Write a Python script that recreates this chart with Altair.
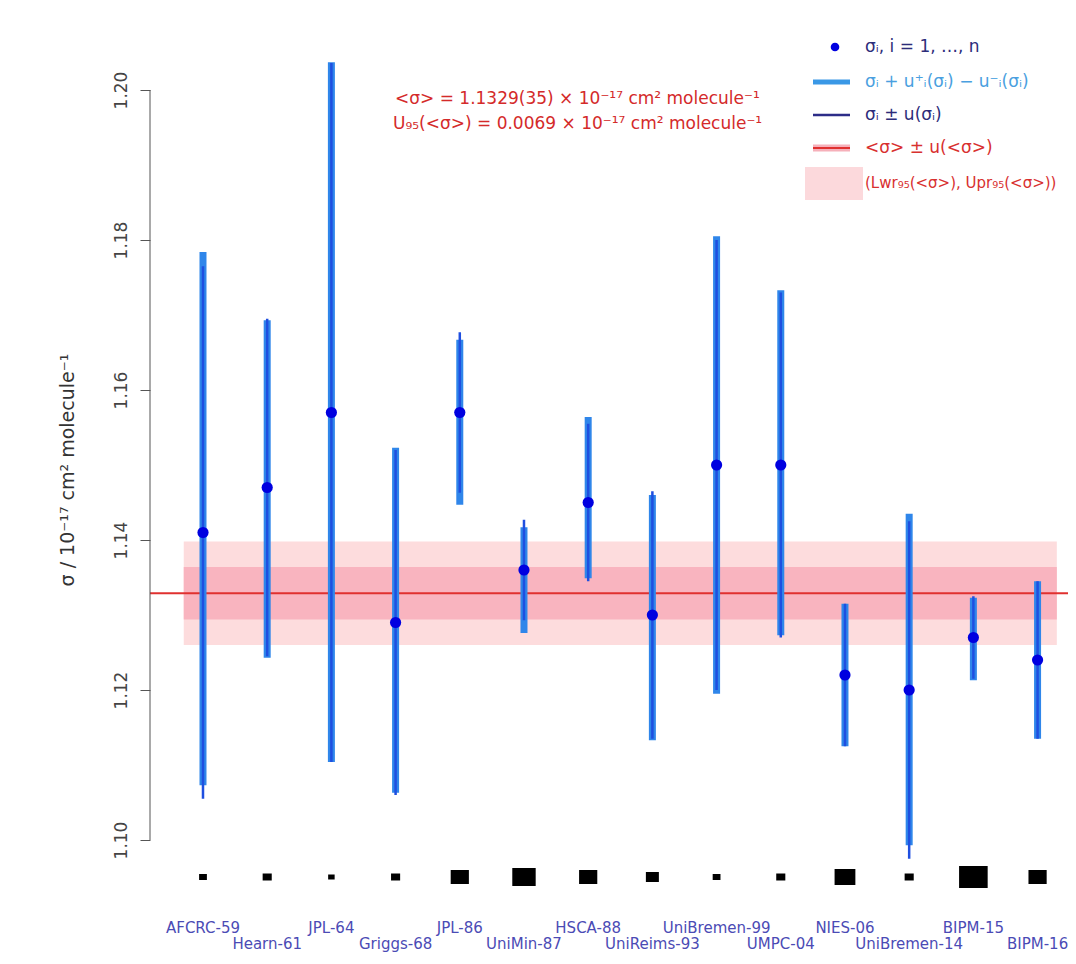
import altair as alt
import pandas as pd

# ---------------- data ----------------
labels = ["AFCRC-59", "Hearn-61", "JPL-64", "Griggs-68", "JPL-86", "UniMin-87", "HSCA-88",
          "UniReims-93", "UniBremen-99", "UMPC-04", "NIES-06", "UniBremen-14", "BIPM-15", "BIPM-16"]
sigma = [1.141, 1.147, 1.157, 1.129, 1.157, 1.136, 1.145, 1.130, 1.150, 1.150, 1.122, 1.120, 1.127, 1.124]
asym_lo = [1.1073, 1.1243, 1.1104, 1.1063, 1.1447, 1.1276, 1.1349, 1.1133, 1.1195, 1.1273, 1.1125, 1.0993, 1.1213, 1.1135]
asym_hi = [1.1784, 1.1693, 1.2037, 1.1523, 1.1667, 1.1417, 1.1564, 1.1460, 1.1805, 1.1733, 1.1315, 1.1435, 1.1323, 1.1345]
u_sym = [0.0355, 0.0225, 0.0466, 0.0230, 0.0107, 0.0067, 0.0105, 0.0165, 0.0300, 0.0230, 0.0095, 0.0225, 0.0055, 0.0105]
weight_side = [6, 7, 5, 7, 14, 18, 14, 10, 6, 7, 16, 7, 22, 14]

mean_sigma = 1.1329
u_mean = 0.0035
U95_mean = 0.0069
y_ticks = [1.10, 1.12, 1.14, 1.16, 1.18, 1.20]

legend_texts = ["σᵢ, i = 1, …, n", "σᵢ + u⁺ᵢ(σᵢ) − u⁻ᵢ(σᵢ)", "σᵢ ± u(σᵢ)",
                "<σ> ± u(<σ>)", "(Lwr₉₅(<σ>), Upr₉₅(<σ>))"]
annot_1 = "<σ> = 1.1329(35) × 10⁻¹⁷  cm²  molecule⁻¹"
annot_2 = "U₉₅(<σ>) = 0.0069 × 10⁻¹⁷  cm²  molecule⁻¹"
y_title = "σ   /   10⁻¹⁷   cm²   molecule⁻¹"

# ---------------- tables ----------------
n = len(labels)
df = pd.DataFrame({
    "idx": list(range(1, n + 1)),
    "label": labels,
    "sigma": sigma,
    "alo": asym_lo,
    "ahi": asym_hi,
    "tlo": [s - u for s, u in zip(sigma, u_sym)],
    "thi": [s + u for s, u in zip(sigma, u_sym)],
    "sq": [w * w for w in weight_side],
    "row": [i % 2 for i in range(n)],
})
band = pd.DataFrame({
    "x1": [0.7], "x2": [n + 0.3], "mean": [mean_sigma],
    "lo": [mean_sigma - u_mean], "hi": [mean_sigma + u_mean],
    "lo95": [mean_sigma - U95_mean], "hi95": [mean_sigma + U95_mean],
})
axis_df = pd.DataFrame({"lo": [min(y_ticks)], "hi": [max(y_ticks)]})
one = pd.DataFrame({"k": [0]})
leg_colors = ["#2d2d7a", "#4a9fe0", "#2d2d7a", "#d8302f", "#d8302f"]
leg_df = pd.DataFrame({"t": legend_texts, "py": [7, 42, 75, 108, 143], "c": leg_colors,
                       "fs": [17, 17, 17, 17, 15]})

FONT = "DejaVu Sans"
yscale = alt.Scale(domain=[1.092, 1.2066667], nice=False, zero=False)
xscale = alt.Scale(domain=[0.1745, 14.474], nice=False, zero=False)
yaxis = alt.Axis(
    values=y_ticks, format=".2f", labelAngle=270, labelAlign="center",
    labelBaseline="alphabetic", labelFont=FONT, labelFontSize=17, labelColor="#444",
    labelPadding=14, tickSize=10, tickColor="#555", domain=False, grid=False, title=None)

X = lambda f: alt.X(f, scale=xscale, axis=None)
Y = lambda f: alt.Y(f, scale=yscale, axis=yaxis)

outer = alt.Chart(band).mark_rect(color="#fddcdd").encode(x=X("x1:Q"), x2="x2", y=Y("lo95:Q"), y2="hi95")
inner = alt.Chart(band).mark_rect(color="#f9b4bf").encode(x=X("x1:Q"), x2="x2", y=Y("lo:Q"), y2="hi")
mean_rule = alt.Chart(band).mark_rule(color="#e0302f", strokeWidth=2).encode(y=Y("mean:Q"))

thick = alt.Chart(df).mark_rule(color="#2f86ea", strokeWidth=7).encode(x=X("idx:Q"), y=Y("alo:Q"), y2="ahi")
thin = alt.Chart(df).mark_rule(color="#1f4fe0", strokeWidth=2.5).encode(x=X("idx:Q"), y=Y("tlo:Q"), y2="thi")
pts = alt.Chart(df).mark_circle(color="#0000e0", size=125, opacity=1).encode(x=X("idx:Q"), y=Y("sigma:Q"))

axis_line = alt.Chart(axis_df).mark_rule(color="#555", strokeWidth=1).encode(
    x=alt.value(0), y=Y("lo:Q"), y2="hi")

squares = alt.Chart(df).mark_point(
    shape="M-1.3,-1L1.3,-1L1.3,1L-1.3,1Z", filled=True, color="black", opacity=1
).encode(x=X("idx:Q"), y=alt.value(837), size=alt.Size("sq:Q", scale=None, legend=None))

lab1 = alt.Chart(df).transform_filter("datum.row == 0").mark_text(
    font=FONT, fontSize=15, color="#4b4bb5").encode(x=X("idx:Q"), y=alt.value(888), text="label:N")
lab2 = alt.Chart(df).transform_filter("datum.row == 1").mark_text(
    font=FONT, fontSize=15, color="#4b4bb5").encode(x=X("idx:Q"), y=alt.value(904), text="label:N")

ann1 = alt.Chart(one).mark_text(font=FONT, fontSize=17, color="#d42a2a", align="left",
                                baseline="alphabetic", text=annot_1).encode(x=alt.value(245), y=alt.value(64))
ann2 = alt.Chart(one).mark_text(font=FONT, fontSize=17, color="#d42a2a", align="left",
                                baseline="alphabetic", text=annot_2).encode(x=alt.value(243), y=alt.value(89))

ytitle = alt.Chart(one).mark_text(font=FONT, fontSize=19, color="#333", angle=270,
                                  text=y_title).encode(x=alt.value(-82), y=alt.value(430))

# legend
leg_dot = alt.Chart(one).mark_circle(color="#0000e0", size=75, opacity=1).encode(x=alt.value(685), y=alt.value(7))
leg_l2 = alt.Chart(one).mark_rule(color="#3a98e6", strokeWidth=5).encode(
    x=alt.value(663), x2=alt.value(700), y=alt.value(42))
leg_l3 = alt.Chart(one).mark_rule(color="#2c2c88", strokeWidth=2.5).encode(
    x=alt.value(663), x2=alt.value(700), y=alt.value(75))
leg_l4a = alt.Chart(one).mark_rule(color="#f6b0ba", strokeWidth=7).encode(
    x=alt.value(663), x2=alt.value(700), y=alt.value(108))
leg_l4b = alt.Chart(one).mark_rule(color="#e0302f", strokeWidth=2).encode(
    x=alt.value(663), x2=alt.value(700), y=alt.value(108))
leg_rect = alt.Chart(one).mark_rect(color="#fcd9dc").encode(
    x=alt.value(655), x2=alt.value(713), y=alt.value(127), y2=alt.value(160))
leg_txt = alt.Chart(leg_df).mark_text(font=FONT, align="left").encode(
    x=alt.value(715), y=alt.Y("py:Q", scale=None), text="t:N",
    size=alt.Size("fs:Q", scale=None, legend=None),
    color=alt.Color("c:N", scale=None, legend=None))

chart = alt.layer(
    outer, inner, mean_rule, thick, thin, pts, axis_line, squares, lab1, lab2,
    ann1, ann2, ytitle, leg_rect, leg_dot, leg_l2, leg_l3, leg_l4a, leg_l4b, leg_txt
).properties(
    width=918, height=860,
    padding={"left": 142, "top": 32, "right": 0, "bottom": 52},
    autosize=alt.AutoSizeParams(type="none"),
    background="white",
).configure_view(stroke=None)

chart.save("out.html", embed_options={"renderer": "svg", "actions": False})
